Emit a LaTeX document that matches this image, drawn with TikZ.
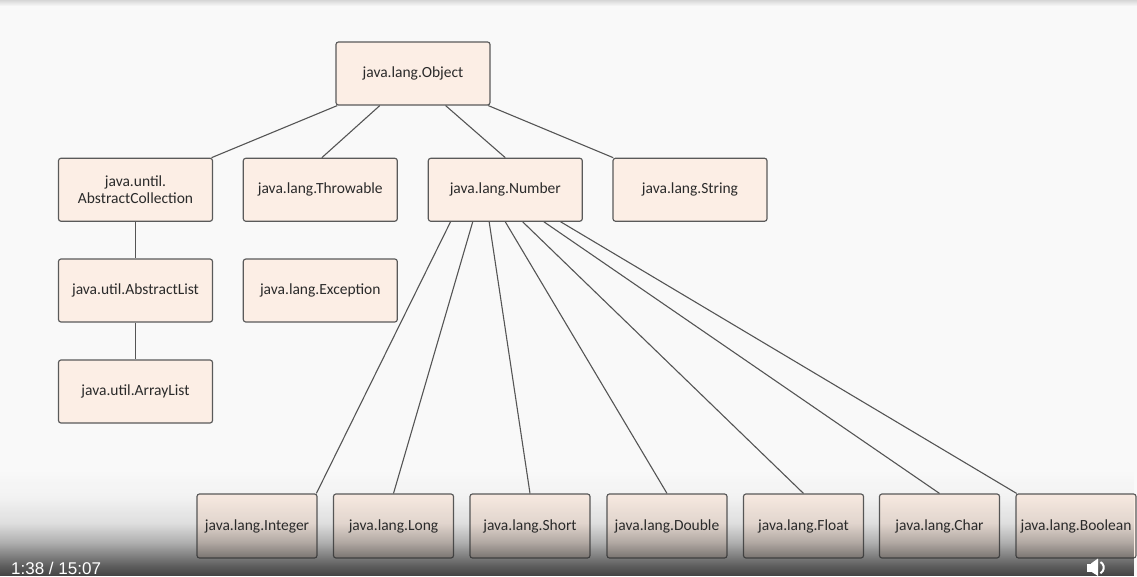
\documentclass[tikz,border=0pt]{standalone}
\usepackage{fontspec}
\setmainfont{Carlito}
\newfontfamily\uifont{Liberation Sans}
\usetikzlibrary{calc,fadings}
\definecolor{bgc}{HTML}{F9F9F9}
\definecolor{boxfill}{HTML}{FCEEE5}
\definecolor{boxline}{HTML}{5A5A5A}
\definecolor{edgec}{HTML}{555555}
\definecolor{txtc}{HTML}{2A2A2A}
\definecolor{barc}{HTML}{2E2E2E}
\pgfdeclareverticalshading{barshade}{100bp}{color(0bp)=(white!90!black); color(25bp)=(white!90!black); color(30bp)=(white!76!black); color(35bp)=(white!58!black); color(41bp)=(white!36!black); color(50bp)=(white!13!black); color(62.5bp)=(white!3!black); color(75bp)=(black); color(100bp)=(black)}
\tikzfading[name=fadeup, shading=barshade]
\tikzset{
  cls/.style={draw=boxline, fill=boxfill, line width=1.15pt, rounded corners=2.5pt,
    minimum width=154pt, minimum height=63pt, inner sep=0pt, align=center,
    text=txtc, font=\fontsize{15.5}{17}\selectfont},
  leaf/.style={cls, minimum width=120pt, minimum height=64pt},
  edge/.style={draw=edgec, line width=1.1pt}
}
\begin{document}
\begin{tikzpicture}[x=1pt,y=-1pt]
\useasboundingbox (0,0) rectangle (1137,576);
\fill[bgc] (0,0) rectangle (1137,576);
\shade[top color=black!16, bottom color=bgc] (0,0) rectangle (1137,6);

% top levels
\node[cls] (obj) at (413,73.5) {java.lang.Object};
\node[cls] (acoll) at (135.5,189.75) {java.until.\\AbstractCollection};
\node[cls] (thr) at (320.3,189.75) {java.lang.Throwable};
\node[cls] (num) at (505.3,189.75) {java.lang.Number};
\node[cls] (str) at (690,189.75) {java.lang.String};
\node[cls] (alist) at (135.5,290.5) {java.util.AbstractList};
\node[cls] (exc) at (320.3,290.5) {java.lang.Exception};
\node[cls] (arr) at (135.5,391.5) {java.util.ArrayList};

% bottom row
\node[leaf] (int) at (257,526) {java.lang.Integer};
\node[leaf] (lng) at (393.5,526) {java.lang.Long};
\node[leaf] (sht) at (530,526) {java.lang.Short};
\node[leaf] (dbl) at (667,526) {java.lang.Double};
\node[leaf] (flt) at (803.5,526) {java.lang.Float};
\node[leaf] (chr) at (939.5,526) {java.lang.Char};
\node[leaf] (bool) at (1076,526) {java.lang.Boolean};

% edges from Object
\draw[edge] ($(obj.south west)!0.012!(obj.south east)$) -- ($(acoll.north west)!0.99!(acoll.north east)$);
\draw[edge] ($(obj.south west)!0.286!(obj.south east)$) -- ($(thr.north west)!0.51!(thr.north east)$);
\draw[edge] ($(obj.south west)!0.71!(obj.south east)$) -- (num.north);
\draw[edge] ($(obj.south west)!0.985!(obj.south east)$) -- ($(str.north west)!0.005!(str.north east)$);

% list chain
\draw[edge] (acoll.south) -- (alist.north);
\draw[edge] (alist.south) -- (arr.north);

% edges from Number
\draw[edge] ($(num.south west)!0.147!(num.south east)$) -- ($(int.north west)!0.99!(int.north east)$);
\draw[edge] ($(num.south west)!0.29!(num.south east)$) -- (lng.north);
\draw[edge] ($(num.south west)!0.396!(num.south east)$) -- (sht.north);
\draw[edge] ($(num.south west)!0.5!(num.south east)$) -- (dbl.north);
\draw[edge] ($(num.south west)!0.612!(num.south east)$) -- (flt.north);
\draw[edge] ($(num.south west)!0.749!(num.south east)$) -- (chr.north);
\draw[edge] ($(num.south west)!0.857!(num.south east)$) -- ($(bool.north west)!0.01!(bool.north east)$);

% video player overlay
\fill[barc, path fading=fadeup] (0,470) rectangle (1137,576);
\node[anchor=base west, inner sep=0pt, text=white, font=\uifont\fontsize{17}{18}\selectfont] (time) at (11,574.5) {1:38 / 15:07};
\fill[white] (1087,563.5) rectangle (1092,571.5);
\fill[white] (1091,563.5) -- (1098,558.5) -- (1098,576) -- (1091,571.5) -- cycle;
\draw[white, line width=2pt] (1100.5,562) arc[start angle=60, end angle=-60, radius=6.5pt];
\end{tikzpicture}
\end{document}
